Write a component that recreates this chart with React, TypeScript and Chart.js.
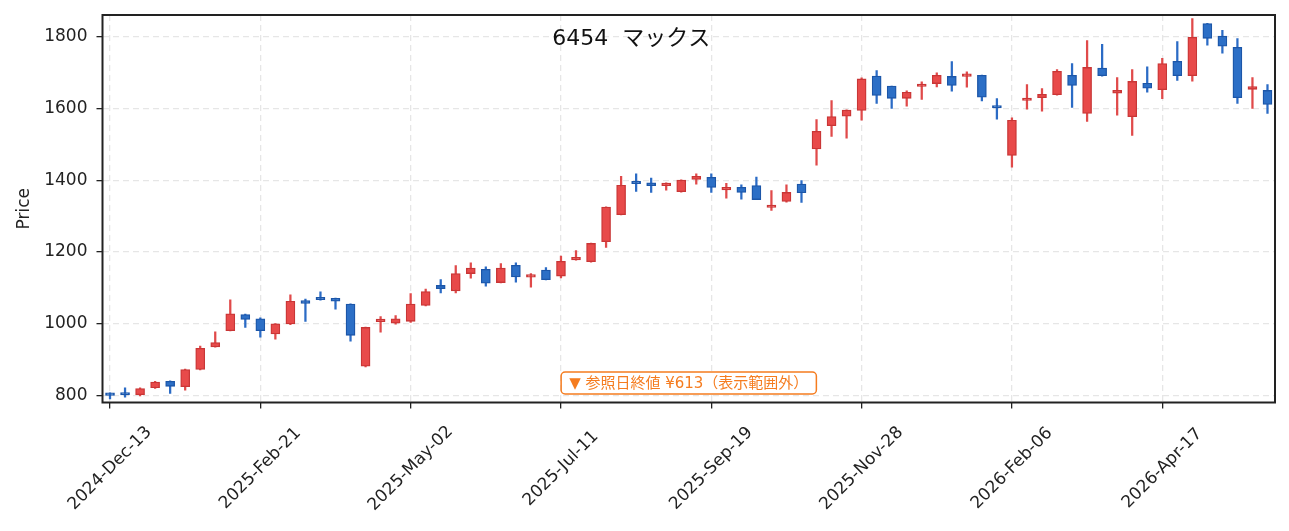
import { useEffect, useRef } from 'react';
import { Chart, registerables } from 'chart.js';

Chart.register(...registerables);

const FONT = '"DejaVu Sans", "Noto Sans CJK JP", sans-serif';

// weekly candles
const weeks = [
  '2024-Dec-13', '2024-Dec-20', '2024-Dec-27', '2025-Jan-03', '2025-Jan-10', '2025-Jan-17', '2025-Jan-24', '2025-Jan-31',
  '2025-Feb-07', '2025-Feb-14', '2025-Feb-21', '2025-Feb-28', '2025-Mar-07', '2025-Mar-14', '2025-Mar-21', '2025-Mar-28',
  '2025-Apr-04', '2025-Apr-11', '2025-Apr-18', '2025-Apr-25', '2025-May-02', '2025-May-09', '2025-May-16', '2025-May-23',
  '2025-May-30', '2025-Jun-06', '2025-Jun-13', '2025-Jun-20', '2025-Jun-27', '2025-Jul-04', '2025-Jul-11', '2025-Jul-18',
  '2025-Jul-25', '2025-Aug-01', '2025-Aug-08', '2025-Aug-15', '2025-Aug-22', '2025-Aug-29', '2025-Sep-05', '2025-Sep-12',
  '2025-Sep-19', '2025-Sep-26', '2025-Oct-03', '2025-Oct-10', '2025-Oct-17', '2025-Oct-24', '2025-Oct-31', '2025-Nov-07',
  '2025-Nov-14', '2025-Nov-21', '2025-Nov-28', '2025-Dec-05', '2025-Dec-12', '2025-Dec-19', '2025-Dec-26', '2026-Jan-02',
  '2026-Jan-09', '2026-Jan-16', '2026-Jan-23', '2026-Jan-30', '2026-Feb-06', '2026-Feb-13', '2026-Feb-20', '2026-Feb-27',
  '2026-Mar-06', '2026-Mar-13', '2026-Mar-20', '2026-Mar-27', '2026-Apr-03', '2026-Apr-10', '2026-Apr-17', '2026-Apr-24',
  '2026-May-01', '2026-May-08', '2026-May-15', '2026-May-22', '2026-May-29', '2026-Jun-05',
];

const opens = [
  806, 804, 803, 822, 840, 825, 873, 936, 981, 1026, 1014, 972, 1000, 1065, 1070, 1071, 1055, 882, 1006, 1002,
  1007, 1051, 1107, 1092, 1140, 1152, 1115, 1163, 1130, 1150, 1133, 1178, 1173, 1229, 1304, 1394, 1393, 1385, 1368, 1402,
  1408, 1373, 1380, 1385, 1324, 1341, 1389, 1487, 1552, 1578, 1594, 1690, 1662, 1628, 1661, 1669, 1689, 1689, 1692, 1606,
  1469, 1622, 1630, 1638, 1692, 1586, 1712, 1642, 1577, 1670, 1652, 1731, 1691, 1836, 1801, 1770, 1653, 1650,
];
const highs = [
  808, 822, 822, 840, 841, 874, 938, 978, 1067, 1027, 1017, 1001, 1081, 1069, 1089, 1072, 1056, 991, 1020, 1023,
  1084, 1097, 1123, 1162, 1170, 1159, 1168, 1170, 1140, 1157, 1189, 1204, 1225, 1326, 1411, 1418, 1406, 1393, 1401, 1418,
  1418, 1391, 1387, 1409, 1371, 1387, 1399, 1569, 1622, 1596, 1685, 1705, 1662, 1649, 1674, 1699, 1730, 1702, 1693, 1627,
  1574, 1666, 1655, 1708, 1725, 1789, 1778, 1686, 1708, 1716, 1739, 1786, 1850, 1837, 1817, 1794, 1686, 1666,
];
const lows = [
  791, 796, 799, 820, 806, 815, 872, 935, 980, 990, 963, 957, 998, 1007, 1066, 1041, 952, 880, 977, 999,
  1004, 1050, 1086, 1086, 1127, 1105, 1114, 1116, 1102, 1122, 1128, 1177, 1172, 1213, 1303, 1369, 1366, 1372, 1367, 1389,
  1366, 1350, 1347, 1346, 1316, 1339, 1338, 1442, 1522, 1517, 1567, 1614, 1600, 1606, 1625, 1660, 1648, 1659, 1621, 1570,
  1436, 1598, 1592, 1637, 1603, 1564, 1690, 1581, 1525, 1645, 1627, 1678, 1676, 1776, 1754, 1614, 1600, 1586,
];
const closes = [
  801, 802, 820, 838, 826, 873, 932, 948, 1028, 1012, 981, 1000, 1063, 1057, 1067, 1063, 968, 990, 1008, 1014,
  1055, 1090, 1098, 1140, 1155, 1113, 1155, 1131, 1133, 1123, 1174, 1185, 1224, 1325, 1386, 1390, 1385, 1390, 1400, 1411,
  1380, 1375, 1366, 1346, 1328, 1366, 1365, 1536, 1577, 1595, 1682, 1636, 1628, 1645, 1663, 1692, 1664, 1693, 1631, 1601,
  1567, 1628, 1639, 1703, 1664, 1714, 1691, 1650, 1675, 1656, 1725, 1691, 1798, 1795, 1773, 1630, 1661, 1611,
];

const tickLabels = [
  '2024-Dec-13', '2025-Feb-21', '2025-May-02', '2025-Jul-11',
  '2025-Sep-19', '2025-Nov-28', '2026-Feb-06', '2026-Apr-17',
];
const yTicks = [800, 1000, 1200, 1400, 1600, 1800];

const chartTitle = '6454  マックス';
const refNote = '▼ 参照日終値 ¥613（表示範囲外）';

const UP_FILL = '#e84a4a';
const UP_EDGE = '#c93636';
const DOWN_FILL = '#2c6fc6';
const DOWN_EDGE = '#1c56a8';

const decorPlugin = {
  id: 'decor',
  afterDraw(chart: Chart) {
    const { ctx, chartArea: a } = chart;
    const xs = chart.scales.x;
    ctx.save();

    // axes frame
    ctx.strokeStyle = '#222';
    ctx.lineWidth = 2;
    ctx.strokeRect(a.left, a.top, a.right - a.left, a.bottom - a.top);

    // rotated date labels, centred under their ticks
    ctx.font = `17px ${FONT}`;
    ctx.fillStyle = '#222';
    ctx.textAlign = 'center';
    ctx.textBaseline = 'middle';
    tickLabels.forEach((lbl) => {
      const x = xs.getPixelForValue(weeks.indexOf(lbl));
      ctx.save();
      ctx.translate(x, a.bottom + 66);
      ctx.rotate(-Math.PI / 4);
      ctx.fillText(lbl, 0, 0);
      ctx.restore();
    });

    // title inside the plot
    ctx.font = `22px ${FONT}`;
    ctx.fillStyle = '#111';
    ctx.fillText(chartTitle, a.left + (a.right - a.left) * 0.451, a.top + 24);

    // reference close note
    ctx.font = `15px ${FONT}`;
    const w = ctx.measureText(refNote).width + 16;
    const h = 22;
    const cx = (a.left + a.right) / 2;
    const cy = a.bottom - 19.5;
    ctx.beginPath();
    ctx.roundRect(cx - w / 2, cy - h / 2, w, h, 4);
    ctx.fillStyle = '#ffffff';
    ctx.fill();
    ctx.strokeStyle = '#f57c1f';
    ctx.lineWidth = 1.5;
    ctx.stroke();
    ctx.fillStyle = '#f57c1f';
    ctx.fillText(refNote, cx, cy + 1);

    ctx.restore();
  },
};

export default function App() {
  const canvasRef = useRef<HTMLCanvasElement>(null);

  useEffect(() => {
    if (!canvasRef.current) return;
    const up = opens.map((o, i) => closes[i] >= o);

    const chart = new Chart(canvasRef.current, {
      type: 'bar',
      data: {
        labels: weeks,
        datasets: [
          {
            label: 'body',
            data: opens.map((o, i) => [o, closes[i]]),
            backgroundColor: up.map((u) => (u ? UP_FILL : DOWN_FILL)),
            borderColor: up.map((u) => (u ? UP_EDGE : DOWN_EDGE)),
            borderWidth: 1.3,
            borderSkipped: false,
            barThickness: 9,
            minBarLength: 2.5,
            grouped: false,
          },
          {
            label: 'wick',
            data: lows.map((l, i) => [l, highs[i]]),
            backgroundColor: up.map((u) => (u ? '#e04a4a' : '#2b6bc5')),
            borderWidth: 0,
            barThickness: 1.6,
            grouped: false,
          },
        ],
      },
      options: {
        responsive: false,
        animation: false,
        layout: { padding: { top: 15, right: 14, left: 0, bottom: 0 } },
        plugins: {
          legend: { display: false },
          tooltip: { enabled: false },
        },
        scales: {
          x: {
            offset: true,
            afterBuildTicks: (axis) => {
              axis.ticks = tickLabels.map((l) => ({ value: weeks.indexOf(l) }));
            },
            afterFit: (axis) => {
              axis.height = 128.5;
              axis.paddingLeft = 0;
              axis.paddingRight = 0;
            },
            ticks: { display: false, autoSkip: false },
            grid: {
              offset: false,
              color: '#e6e6e6',
              lineWidth: 1.3,
              tickColor: '#222',
              tickLength: 6,
              tickWidth: 1.3,
              tickBorderDash: [],
            },
            border: { display: false, dash: [6, 4] },
          },
          y: {
            min: 781,
            max: 1860,
            afterBuildTicks: (axis) => {
              axis.ticks = yTicks.map((v) => ({ value: v }));
            },
            afterFit: (axis) => {
              axis.width = 102.5;
              axis.paddingTop = 0;
              axis.paddingBottom = 0;
            },
            ticks: {
              font: { family: FONT, size: 17 },
              color: '#222',
              padding: 9,
              callback: (v) => String(v),
            },
            grid: {
              color: '#e6e6e6',
              lineWidth: 1.3,
              tickColor: '#222',
              tickLength: 6,
              tickWidth: 1.3,
              tickBorderDash: [],
            },
            border: { display: false, dash: [6, 4] },
            title: {
              display: true,
              text: 'Price',
              font: { family: FONT, size: 17 },
              color: '#222',
              padding: { top: 14, bottom: 0 },
            },
          },
        },
      },
      plugins: [decorPlugin],
    });

    return () => {
      chart.destroy();
    };
  }, []);

  return (
    <div style={{ position: 'absolute', left: 0, top: 0, width: 1289, height: 531, background: '#fff' }}>
      <canvas ref={canvasRef} width={1289} height={531} />
    </div>
  );
}
